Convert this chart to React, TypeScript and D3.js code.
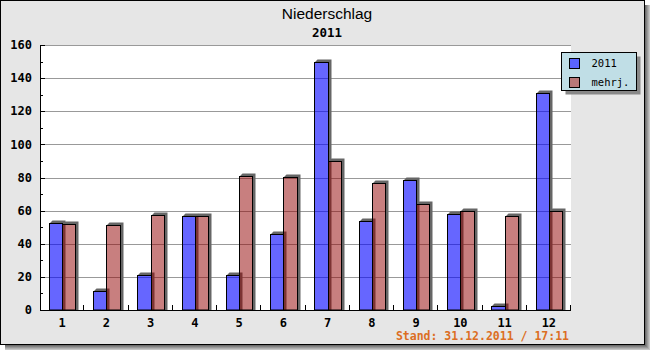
import React from "react";
import * as d3 from "d3";

const categories = ["1", "2", "3", "4", "5", "6", "7", "8", "9", "10", "11", "12"];
const series2011 = [52.5, 11.3, 21, 56.6, 21, 45.7, 150, 53.7, 78.3, 58, 2.4, 131];
const seriesMehrj = [52, 51.2, 57.2, 56.8, 81, 80.2, 90, 76.7, 64, 59.8, 56.8, 59.8];
const seriesNames = ["2011", "mehrj."];
const yTicks = [0, 20, 40, 60, 80, 100, 120, 140, 160];
const yMinorTicks = [10, 30, 50, 70, 90, 110, 130, 150];
const title = "Niederschlag";
const subtitle = "2011";
const footer = "Stand: 31.12.2011 / 17:11";

const W = 650;
const H = 350;
const plot = { left: 40, right: 571, top: 45, bottom: 310 };
const mono = "'DejaVu Sans Mono', monospace";

const barFill = [
  { fill: "#0000ff", opacity: 0.6 },
  { fill: "#910000", opacity: 0.5 },
];
const legendFill = ["#5a64ff", "#b87878"];

export default function App() {
  const x = d3.scaleBand<string>().domain(categories).range([plot.left, plot.right]).paddingInner(0).paddingOuter(0);
  const y = d3.scaleLinear().domain([0, 160]).range([plot.bottom, plot.top]);
  const groupW = x.bandwidth() * 0.6;
  const inner = d3.scaleBand<number>().domain([0, 1]).range([0, groupW]).padding(0);
  const S = 3;

  const all = [series2011, seriesMehrj];

  return (
    <svg width={W} height={H} style={{ position: "absolute", left: 0, top: 0 }} xmlns="http://www.w3.org/2000/svg">
      {/* frame shadow */}
      {[0, 1, 2, 3, 4].map((i) => {
        const g = 110 + i * 22;
        const c = `rgb(${g},${g},${g})`;
        return (
          <g key={i}>
            <line x1={645.5 + i} x2={645.5 + i} y1={5} y2={350} stroke={c} strokeWidth={1} />
            <line x1={5} x2={650} y1={345.5 + i} y2={345.5 + i} stroke={c} strokeWidth={1} />
          </g>
        );
      })}
      <rect x={0.5} y={0.5} width={644} height={344} fill="#e6e6e6" stroke="#000" strokeWidth={1} />

      {/* plot area */}
      <rect x={plot.left} y={plot.top} width={plot.right - plot.left} height={plot.bottom - plot.top} fill="#fff" />

      {/* gridlines */}
      {yTicks.filter((t) => t > 0).map((t) => (
        <line key={t} x1={plot.left} x2={plot.right} y1={Math.round(y(t)) + 0.5} y2={Math.round(y(t)) + 0.5} stroke="#999" strokeWidth={1} />
      ))}

      {/* bars */}
      {all.map((vals, si) => (
        <g key={si}>
          {vals.map((v, ci) => {
            const cx = (x(categories[ci]) as number) + x.bandwidth() / 2;
            const x0 = Math.round(cx - groupW / 2 + (inner(si) as number)) + 0.5;
            const x1 = Math.round(cx - groupW / 2 + (inner(si) as number) + inner.bandwidth()) + 0.5;
            const top = Math.round(y(v)) + 0.5;
            const y0 = plot.bottom;
            const shadow = [
              [x0, top],
              [x0 + S, top - S],
              [x1 + S, top - S],
              [x1 + S, y0],
              [x1, y0],
              [x1, top],
            ];
            return (
              <g key={ci}>
                <polygon points={shadow.map((p) => p.join(",")).join(" ")} fill="#666" />
                <rect x={x0} y={top} width={x1 - x0} height={y0 - top} fill={barFill[si].fill} fillOpacity={barFill[si].opacity} stroke="#000" strokeWidth={1} />
              </g>
            );
          })}
        </g>
      ))}

      {/* axes */}
      <line x1={plot.left + 0.5} x2={plot.left + 0.5} y1={plot.top} y2={plot.bottom + 1} stroke="#000" strokeWidth={1} />
      <line x1={plot.left} x2={plot.right} y1={plot.bottom + 0.5} y2={plot.bottom + 0.5} stroke="#000" strokeWidth={1} />
      {yTicks.map((t) => (
        <line key={"mt" + t} x1={plot.left} x2={plot.left + 5} y1={Math.round(y(t)) + 0.5} y2={Math.round(y(t)) + 0.5} stroke="#000" />
      ))}
      {yMinorTicks.map((t) => (
        <line key={"nt" + t} x1={plot.left} x2={plot.left + 3} y1={Math.round(y(t)) + 0.5} y2={Math.round(y(t)) + 0.5} stroke="#000" />
      ))}
      {categories.map((c) => {
        const xe = Math.round((x(c) as number) + x.bandwidth()) - 0.5;
        return <line key={"xt" + c} x1={xe} x2={xe} y1={plot.bottom} y2={plot.bottom - 5} stroke="#000" />;
      })}
      {yTicks.map((t) => (
        <text key={"yl" + t} x={32} y={y(t)} dy="0.35em" textAnchor="end" fontFamily={mono} fontWeight="bold" fontSize={12} fill="#000">
          {t}
        </text>
      ))}
      {categories.map((c) => (
        <text key={"xl" + c} x={(x(c) as number) + x.bandwidth() / 2} y={323} dy="0.35em" textAnchor="middle" fontFamily={mono} fontWeight="bold" fontSize={12} fill="#000">
          {c}
        </text>
      ))}

      {/* titles */}
      <text x={327} y={19} textAnchor="middle" fontFamily="'Liberation Sans', Arial, sans-serif" fontSize={15.5} fill="#000">
        {title}
      </text>
      <text x={327} y={33} dy="0.35em" textAnchor="middle" fontFamily={mono} fontWeight="bold" fontSize={12.5} fill="#000">
        {subtitle}
      </text>
      <text x={569} y={336} dy="0.35em" textAnchor="end" fontFamily={mono} fontWeight="bold" fontSize={11.5} fill="#dc6e23">
        {footer}
      </text>

      {/* legend */}
      <rect x={565.5} y={56.5} width={75} height={38} fill="#888" />
      <rect x={561.5} y={52.5} width={75} height={38} fill="#c0dee6" stroke="#000" />
      {seriesNames.map((n, i) => (
        <g key={n}>
          <rect x={569.5} y={58.5 + i * 19} width={10} height={10} fill={legendFill[i]} stroke="#000" />
          <text x={591.5} y={63.5 + i * 19} dy="0.35em" fontFamily={mono} fontSize={10.5} fill="#000">
            {n}
          </text>
        </g>
      ))}
    </svg>
  );
}
